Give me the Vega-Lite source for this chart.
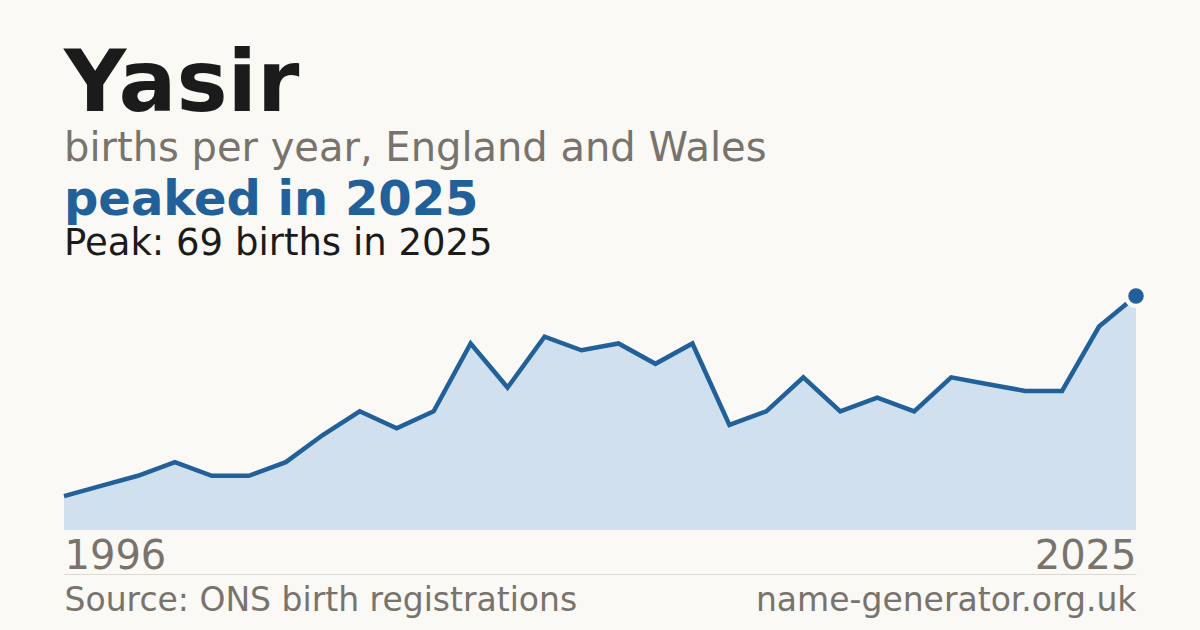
{
  "$schema": "https://vega.github.io/schema/vega-lite/v6.json",
  "background": "#faf9f5",
  "padding": {"left": 55, "right": 64, "top": 42, "bottom": 14},
  "config": {
    "view": {"stroke": null},
    "font": "DejaVu Sans",
    "axis": {"grid": false, "ticks": false, "tickSize": 0, "title": null}
  },
  "title": {
    "text": "Yasir",
    "subtitle": "births per year, England and Wales",
    "anchor": "start",
    "frame": "group",
    "baseline": "top",
    "font": "DejaVu Sans",
    "fontSize": 86,
    "fontWeight": "bold",
    "color": "#1b1b1b",
    "subtitleFont": "DejaVu Sans",
    "subtitleFontSize": 40,
    "subtitleColor": "#78736c",
    "subtitlePadding": 0,
    "offset": 7
  },
  "data": {
    "values": [
      {"year": 1996, "births": 10},
      {"year": 1997, "births": 13},
      {"year": 1998, "births": 16},
      {"year": 1999, "births": 20},
      {"year": 2000, "births": 16},
      {"year": 2001, "births": 16},
      {"year": 2002, "births": 20},
      {"year": 2003, "births": 28},
      {"year": 2004, "births": 35},
      {"year": 2005, "births": 30},
      {"year": 2006, "births": 35},
      {"year": 2007, "births": 55},
      {"year": 2008, "births": 42},
      {"year": 2009, "births": 57},
      {"year": 2010, "births": 53},
      {"year": 2011, "births": 55},
      {"year": 2012, "births": 49},
      {"year": 2013, "births": 55},
      {"year": 2014, "births": 31},
      {"year": 2015, "births": 35},
      {"year": 2016, "births": 45},
      {"year": 2017, "births": 35},
      {"year": 2018, "births": 39},
      {"year": 2019, "births": 35},
      {"year": 2020, "births": 45},
      {"year": 2021, "births": 43},
      {"year": 2022, "births": 41},
      {"year": 2023, "births": 41},
      {"year": 2024, "births": 60},
      {"year": 2025, "births": 69}
    ]
  },
  "vconcat": [
    {
      "width": 1072,
      "height": 234,
      "title": {
        "text": "peaked in 2025",
        "subtitle": "Peak: 69 births in 2025",
        "anchor": "start",
        "frame": "group",
        "baseline": "top",
        "font": "DejaVu Sans",
        "fontSize": 48,
        "fontWeight": "bold",
        "color": "#22609a",
        "subtitleFont": "DejaVu Sans",
        "subtitleFontSize": 37,
        "subtitleColor": "#1b1b1b",
        "subtitlePadding": 1,
        "offset": 22
      },
      "encoding": {
        "y": {
          "field": "births",
          "type": "quantitative",
          "scale": {"domain": [0, 69], "nice": false, "zero": true},
          "axis": null
        }
      },
      "layer": [
        {
          "mark": {"type": "area", "color": "#d0e0ef"},
          "encoding": {
            "x": {
              "field": "year",
              "type": "quantitative",
              "scale": {"domain": [1996, 2025], "nice": false, "zero": false},
              "axis": {
                "orient": "bottom",
                "offset": 0,
                "values": [1996, 2025],
                "format": "d",
                "labelFlush": true,
                "labelFontSize": 40,
                "labelColor": "#78736c",
                "labelBaseline": "alphabetic",
                "labelPadding": 38,
                "domain": false
              }
            }
          }
        },
        {
          "mark": {"type": "line", "color": "#22609a", "strokeWidth": 4.5},
          "encoding": {
            "x": {
              "field": "year",
              "type": "quantitative",
              "axis": {
                "orient": "bottom",
                "offset": 44,
                "values": [1996, 2025],
                "labelExpr": "datum.value == 1996 ? 'Source: ONS birth registrations' : 'name-generator.org.uk'",
                "labelFlush": true,
                "labelOverlap": false,
                "labelLimit": 1000,
                "labelFontSize": 33,
                "labelColor": "#78736c",
                "labelBaseline": "alphabetic",
                "labelPadding": 36,
                "domain": true,
                "domainColor": "#dddad3",
                "domainWidth": 1
              }
            }
          }
        },
        {
          "transform": [{"filter": "datum.year == 2025"}],
          "mark": {"type": "circle", "color": "#faf9f5", "opacity": 1, "size": 576},
          "encoding": {
            "x": {"field": "year", "type": "quantitative", "axis": null}
          }
        },
        {
          "transform": [{"filter": "datum.year == 2025"}],
          "mark": {"type": "circle", "color": "#22609a", "opacity": 1, "size": 240},
          "encoding": {
            "x": {"field": "year", "type": "quantitative", "axis": null}
          }
        }
      ],
      "resolve": {"axis": {"x": "independent"}}
    }
  ]
}
